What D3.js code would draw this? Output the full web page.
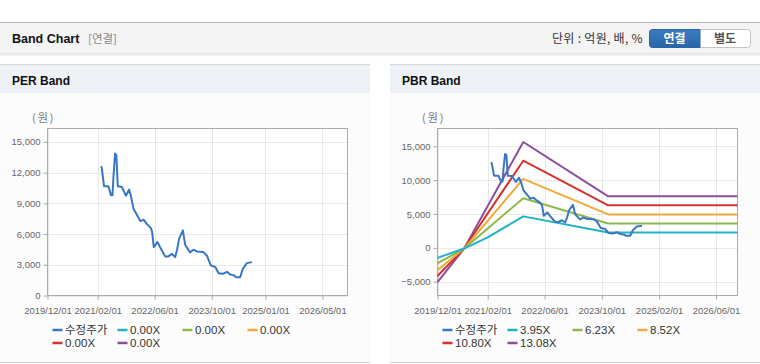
<!DOCTYPE html>
<html>
<head>
<meta charset="utf-8">
<script src="https://cdn.jsdelivr.net/npm/d3@7"></script>
<style>
  body { margin: 0; background: #fff; font-family: "Liberation Sans", Arial, "Noto Sans CJK KR", sans-serif; }
  svg { display: block; }
</style>
</head>
<body>
<div id="chart"></div>
<script>
// price (수정주가), shared by both panels
var priceDates = ["2021-02-28","2021-03-07","2021-03-27","2021-05-03","2021-05-26","2021-06-07","2021-06-15","2021-06-29",
  "2021-07-10","2021-07-22","2021-08-26","2021-09-29","2021-10-27","2021-11-11","2021-12-03","2022-01-30","2022-02-27",
  "2022-03-26","2022-04-29","2022-05-10","2022-05-25","2022-06-25","2022-07-17","2022-08-30","2022-09-27","2022-10-26",
  "2022-11-23","2022-12-08","2022-12-27","2023-01-28","2023-02-16","2023-03-30","2023-04-28","2023-05-26","2023-07-22",
  "2023-08-20","2023-09-23","2023-10-30","2023-11-28","2024-01-04","2024-02-07","2024-03-06","2024-04-04","2024-04-26",
  "2024-05-30","2024-06-22","2024-07-26","2024-09-08"];
var priceValues = [12620,12500,10660,10660,9780,9780,11570,13860,13700,10660,10600,9750,10350,9720,8480,7270,7400,
  7000,6600,6270,4730,5220,4730,3820,3820,4080,3750,4400,5550,6360,4960,4210,4470,4300,4240,3910,2935,2800,2180,2120,
  2310,2050,1990,1790,1790,2610,3160,3260];

// PBR band lines
var bandDates = ["2019-12-01","2020-07-15","2021-02-01","2021-12-01","2023-11-25","2026-12-01"];
var band395 = [-1480, -100, 1550, 4650, 2270, 2270];
var band623 = [-2270, -100, 2870, 7320, 3600, 3600];
var band852 = [-3260, -100, 4000, 10190, 4940, 4940];
var band1080 = [-4150, -100, 5090, 12860, 6280, 6280];
var band1308 = [-5040, -100, 6190, 15620, 7610, 7610];

var perLegend = ["수정주가", "0.00X", "0.00X", "0.00X", "0.00X", "0.00X"];
var pbrLegend = ["수정주가", "3.95X", "6.23X", "8.52X", "10.80X", "13.08X"];
var colors = ["#3a76c4", "#22b2c6", "#8cb84c", "#f2a93b", "#d3332c", "#8e4c9c"];

var perTicks = ["2019/12/01","2021/02/01","2022/06/01","2023/10/01","2025/01/01","2026/05/01"];
var pbrTicks = ["2019/12/01","2021/02/01","2022/06/01","2023/10/01","2025/02/01","2026/06/01"];
var perYTicks = [0, 3000, 6000, 9000, 12000, 15000];
var pbrYTicks = [-5000, 0, 5000, 10000, 15000];

var parse = d3.timeParse("%Y-%m-%d");
var parseTick = d3.timeParse("%Y/%m/%d");
var fmtTick = d3.timeFormat("%Y/%m/%d");

var svg = d3.select("#chart").append("svg").attr("width", 760).attr("height", 364);

// top header bar
var defs = svg.append("defs");
var sh = defs.append("linearGradient").attr("id", "shade").attr("x1", 0).attr("x2", 0).attr("y1", 0).attr("y2", 1);
sh.append("stop").attr("offset", "0%").attr("stop-color", "#000").attr("stop-opacity", 0.12);
sh.append("stop").attr("offset", "100%").attr("stop-color", "#000").attr("stop-opacity", 0);
var bg = defs.append("linearGradient").attr("id", "btn").attr("x1", 0).attr("x2", 0).attr("y1", 0).attr("y2", 1);
bg.append("stop").attr("offset", "0%").attr("stop-color", "#3d7cc2");
bg.append("stop").attr("offset", "100%").attr("stop-color", "#2a64a8");

svg.append("rect").attr("x", 0).attr("y", 22).attr("width", 760).attr("height", 31).attr("fill", "#f4f4f4");
svg.append("line").attr("x1", 0).attr("x2", 760).attr("y1", 22.5).attr("y2", 22.5).attr("stroke", "#b4b4b4");
svg.append("rect").attr("x", 0).attr("y", 53).attr("width", 760).attr("height", 4).attr("fill", "url(#shade)");
svg.append("text").attr("x", 12).attr("y", 43).attr("font-size", 12.5).attr("font-weight", "bold")
  .attr("fill", "#111").text("Band Chart");
svg.append("text").attr("x", 88).attr("y", 43).attr("font-size", 11.5).attr("fill", "#888")
  .attr("font-family", "'Noto Sans CJK KR'").text("[연결]");
svg.append("text").attr("x", 552).attr("y", 43).attr("font-size", 12).attr("fill", "#333")
  .attr("letter-spacing", 0.3).attr("font-family", "'Noto Sans CJK KR'").text("단위 : 억원, 배, %");
svg.append("rect").attr("x", 649.5).attr("y", 29.5).attr("width", 101).attr("height", 18).attr("rx", 3)
  .attr("fill", "#fff").attr("stroke", "#c4c4c4");
svg.append("path").attr("d", "M652.5,29.5 H700 V47.5 H652.5 Q649.5,47.5 649.5,44.5 V32.5 Q649.5,29.5 652.5,29.5 Z")
  .attr("fill", "url(#btn)").attr("stroke", "#2a64a8");
svg.append("text").attr("x", 674.5).attr("y", 43).attr("text-anchor", "middle").attr("font-size", 12)
  .attr("font-weight", "bold").attr("fill", "#fff").attr("font-family", "'Noto Sans CJK KR'").text("연결");
svg.append("text").attr("x", 725).attr("y", 43).attr("text-anchor", "middle").attr("font-size", 12)
  .attr("font-weight", "bold").attr("fill", "#555").attr("font-family", "'Noto Sans CJK KR'").text("별도");

function Panel(x0, title, yDomain, yTicks, xTicks, series, legend) {
  var g = svg.append("g").attr("transform", "translate(" + x0 + ",0)");
  g.append("rect").attr("x", 0).attr("y", 64).attr("width", 370).attr("height", 299).attr("fill", "#fcfcfc");
  g.append("rect").attr("x", 0).attr("y", 64).attr("width", 370).attr("height", 29).attr("fill", "#eef2f7");
  g.append("line").attr("x1", 0).attr("x2", 370).attr("y1", 64.5).attr("y2", 64.5).attr("stroke", "#d8d8d8");
  g.append("line").attr("x1", 0).attr("x2", 370).attr("y1", 362.5).attr("y2", 362.5).attr("stroke", "#cfcfcf");
  g.append("text").attr("x", 12).attr("y", 85).attr("font-size", 12).attr("font-weight", "bold")
    .attr("fill", "#111").text(title);

  var left = 47.5, right = 347.5, top = 128.5, bottom = 295.5;
  var x = d3.scaleTime().domain([parse("2019-12-01"), parse("2026-12-01")]).range([left, right]);
  var y = d3.scaleLinear().domain(yDomain).range([bottom, top]);

  g.append("rect").attr("x", left).attr("y", top).attr("width", right - left).attr("height", bottom - top).attr("fill", "#fff");
  g.append("text").attr("x", 32).attr("y", 122).attr("font-size", 11)
    .attr("letter-spacing", 2).attr("fill", "#777").attr("font-family", "'Noto Sans CJK KR'").text("(원)");

  var xt = xTicks.map(parseTick);
  g.append("g").selectAll("line").data(xt).join("line")
    .attr("x1", d => Math.round(x(d)) + 0.5).attr("x2", d => Math.round(x(d)) + 0.5)
    .attr("y1", top).attr("y2", bottom).attr("stroke", "#e8e8e8");
  g.append("g").selectAll("line").data(yTicks).join("line")
    .attr("x1", left).attr("x2", right)
    .attr("y1", d => Math.round(y(d)) + 0.5).attr("y2", d => Math.round(y(d)) + 0.5).attr("stroke", "#e8e8e8");

  var xAxis = g.append("g").attr("transform", "translate(0," + bottom + ")")
    .call(d3.axisBottom(x).tickValues(xt).tickFormat(fmtTick).tickSize(4).tickSizeOuter(0));
  var yAxis = g.append("g").attr("transform", "translate(" + left + ",0)")
    .call(d3.axisLeft(y).tickValues(yTicks).tickFormat(d3.format(",")).tickSize(4).tickSizeOuter(0));
  [xAxis, yAxis].forEach(function (a) {
    a.select(".domain").remove();
    a.selectAll("line").attr("stroke", "#a8a8a8");
    a.selectAll("text").attr("fill", "#666").attr("font-size", 9.5).attr("font-family", "'Liberation Sans', Arial");
  });
  xAxis.selectAll("text").attr("dy", "1.25em");

  g.append("rect").attr("x", left).attr("y", top).attr("width", right - left).attr("height", bottom - top)
    .attr("fill", "none").attr("stroke", "#ababab");

  var line = d3.line().x(d => x(d[0])).y(d => y(d[1]));
  series.slice().reverse().forEach(function (s) {
    var pts = s.dates.map((d, i) => [parse(d), s.values[i]]);
    g.append("path").datum(pts).attr("d", line).attr("fill", "none")
      .attr("stroke", colors[s.c]).attr("stroke-width", 2).attr("stroke-linejoin", "round");
  });

  var lg = g.append("g");
  legend.forEach(function (t, i) {
    var lx = left + 5 + (i % 4) * 65, ly = 330 + Math.floor(i / 4) * 13;
    lg.append("line").attr("x1", lx).attr("x2", lx + 10).attr("y1", ly).attr("y2", ly)
      .attr("stroke", colors[i]).attr("stroke-width", 2.5);
    lg.append("text").attr("x", lx + 12.5).attr("y", ly + 4).attr("font-size", 11.5).attr("fill", "#333")
      .attr("font-family", "'Liberation Sans', 'Noto Sans CJK KR'").text(t);
  });
}

var priceSeries = { dates: priceDates, values: priceValues, c: 0 };

new Panel(0, "PER Band", [0, 16310], perYTicks, perTicks, [priceSeries], perLegend);
new Panel(390, "PBR Band", [-7025, 17616], pbrYTicks, pbrTicks, [
  priceSeries,
  { dates: bandDates, values: band395, c: 1 },
  { dates: bandDates, values: band623, c: 2 },
  { dates: bandDates, values: band852, c: 3 },
  { dates: bandDates, values: band1080, c: 4 },
  { dates: bandDates, values: band1308, c: 5 }
], pbrLegend);
</script>
</body>
</html>
